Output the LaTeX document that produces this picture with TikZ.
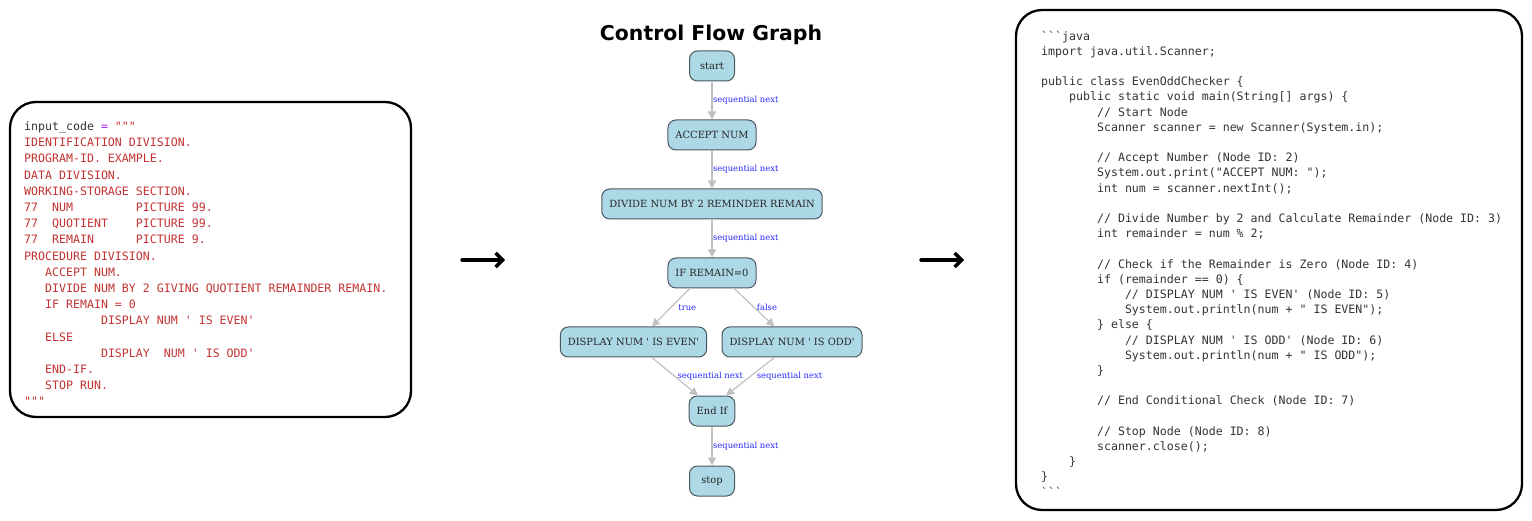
\documentclass[tikz,border=0pt]{standalone}
\usepackage{fontspec}
\setmonofont{DejaVu Sans Mono}
\newfontfamily\titlefont{DejaVu Sans}
\newfontfamily\graphfont{DejaVu Serif}
\usetikzlibrary{arrows.meta,calc}
\definecolor{codered}{RGB}{196,50,50}
\definecolor{codegray}{RGB}{51,51,51}
\definecolor{codepurple}{RGB}{170,34,255}
\definecolor{nodefill}{HTML}{ADD8E6}
\definecolor{nodeborder}{RGB}{74,88,94}
\definecolor{edgegray}{RGB}{192,192,192}
\definecolor{labelblue}{RGB}{40,40,255}
\tikzset{
  panel/.style={draw=black,line width=2.3pt,rounded corners=26pt},
  cfgnode/.style={draw=nodeborder,fill=nodefill,line width=1pt,rounded corners=8pt,
    minimum height=30pt,minimum width=45pt,inner xsep=7.5pt,
    font=\graphfont\fontsize{9.9}{11}\selectfont,text=black!85},
  cfgedge/.style={draw=edgegray,line width=1.2pt,-{Triangle[length=8pt,width=8pt]}},
  elabel/.style={font=\graphfont\fontsize{8.4}{10}\selectfont,text=labelblue,inner sep=0pt},
  bigarrow/.style={line width=3.4pt,line cap=round,-{Straight Barb[length=7pt,width=14pt,line width=3.4pt]}},
  codetext/.style={inner sep=0pt,align=left,anchor=north west}
}
\begin{document}
\begin{tikzpicture}[x=1pt,y=-1pt]
\useasboundingbox (0,0) rectangle (1532,521);

% left panel
\draw[panel] (10,102) rectangle (411,417);
\node[codetext,font=\ttfamily\fontsize{11.6}{16.2}\selectfont,text=codered] (cobol) at (24,121.5) {%
\textcolor{codegray}{input\_code}~\textcolor{codepurple}{=}~"""\\
IDENTIFICATION~DIVISION.\\
PROGRAM-ID.~EXAMPLE.\\
DATA~DIVISION.\\
WORKING-STORAGE~SECTION.\\
77~~NUM~~~~~~~~~PICTURE~99.\\
77~~QUOTIENT~~~~PICTURE~99.\\
77~~REMAIN~~~~~~PICTURE~9.\\
PROCEDURE~DIVISION.\\
~~~ACCEPT~NUM.\\
~~~DIVIDE~NUM~BY~2~GIVING~QUOTIENT~REMAINDER~REMAIN.\\
~~~IF~REMAIN~=~0\\
~~~~~~~~~~~DISPLAY~NUM~'~IS~EVEN'\\
~~~ELSE\\
~~~~~~~~~~~DISPLAY~~NUM~'~IS~ODD'\\
~~~END-IF.\\
~~~STOP~RUN.\\
"""};

% arrows
\coordinate (a1s) at (462,260);
\coordinate (a1e) at (505,260);
\coordinate (a2s) at (921,260);
\coordinate (a2e) at (964,260);
\draw[bigarrow] (a1s) -- (a1e);
\draw[bigarrow] (a2s) -- (a2e);

% title
\node[font=\titlefont\bfseries\fontsize{20.4}{24}\selectfont,inner sep=0pt] (title) at (711,35) {Control Flow Graph};

% graph nodes
\node[cfgnode] (start) at (712,66) {start};
\node[cfgnode] (accept) at (712,135) {ACCEPT NUM};
\node[cfgnode] (divide) at (712,204) {DIVIDE NUM BY 2 REMINDER REMAIN};
\node[cfgnode] (ifn) at (712,273) {IF REMAIN=0};
\node[cfgnode] (even) at (633.5,342) {DISPLAY NUM ' IS EVEN'};
\node[cfgnode] (odd) at (792,342) {DISPLAY NUM ' IS ODD'};
\node[cfgnode] (endif) at (712,411) {End If};
\node[cfgnode] (stop) at (712,481) {stop};

% edges
\draw[cfgedge] (start) -- node[elabel,anchor=west,xshift=0.5pt] (l1) {sequential next} (accept);
\draw[cfgedge] (accept) -- node[elabel,anchor=west,xshift=0.5pt] (l2) {sequential next} (divide);
\draw[cfgedge] (divide) -- node[elabel,anchor=west,xshift=0.5pt] (l3) {sequential next} (ifn);
\draw[cfgedge] ($(ifn.south)!0.5!(ifn.south west)$) -- node[elabel,anchor=west,xshift=7pt] (l4) {true} ($(even.north)!0.25!(even.north east)$);
\draw[cfgedge] ($(ifn.south)!0.5!(ifn.south east)$) -- node[elabel,anchor=west,xshift=2pt] (l5) {false} ($(odd.north)!0.25!(odd.north west)$);
\draw[cfgedge] ($(even.south)!0.25!(even.south east)$) -- node[elabel,anchor=west,xshift=2pt] (l6) {sequential next} ($(endif.north)!0.6!(endif.north west)$);
\draw[cfgedge] ($(odd.south)!0.25!(odd.south west)$) -- node[elabel,anchor=west,xshift=6pt] (l7) {sequential next} ($(endif.north)!0.6!(endif.north east)$);
\draw[cfgedge] (endif) -- node[elabel,anchor=west,xshift=0.5pt] (l8) {sequential next} (stop);

% right panel
\draw[panel] (1016,10) rectangle (1522,510);
\node[codetext,font=\ttfamily\fontsize{11.6}{15.2}\selectfont,text=codegray] (java) at (1041,30.7) {%
```java\\
import~java.util.Scanner;\\
\mbox{}\\
public~class~EvenOddChecker~\{\\
~~~~public~static~void~main(String[]~args)~\{\\
~~~~~~~~//~Start~Node\\
~~~~~~~~Scanner~scanner~=~new~Scanner(System.in);\\
\mbox{}\\
~~~~~~~~//~Accept~Number~(Node~ID:~2)\\
~~~~~~~~System.out.print("ACCEPT~NUM:~");\\
~~~~~~~~int~num~=~scanner.nextInt();\\
\mbox{}\\
~~~~~~~~//~Divide~Number~by~2~and~Calculate~Remainder~(Node~ID:~3)\\
~~~~~~~~int~remainder~=~num~\%~2;\\
\mbox{}\\
~~~~~~~~//~Check~if~the~Remainder~is~Zero~(Node~ID:~4)\\
~~~~~~~~if~(remainder~==~0)~\{\\
~~~~~~~~~~~~//~DISPLAY~NUM~'~IS~EVEN'~(Node~ID:~5)\\
~~~~~~~~~~~~System.out.println(num~+~"~IS~EVEN");\\
~~~~~~~~\}~else~\{\\
~~~~~~~~~~~~//~DISPLAY~NUM~'~IS~ODD'~(Node~ID:~6)\\
~~~~~~~~~~~~System.out.println(num~+~"~IS~ODD");\\
~~~~~~~~\}\\
\mbox{}\\
~~~~~~~~//~End~Conditional~Check~(Node~ID:~7)\\
\mbox{}\\
~~~~~~~~//~Stop~Node~(Node~ID:~8)\\
~~~~~~~~scanner.close();\\
~~~~\}\\
\}\\
```};
\end{tikzpicture}
\end{document}
